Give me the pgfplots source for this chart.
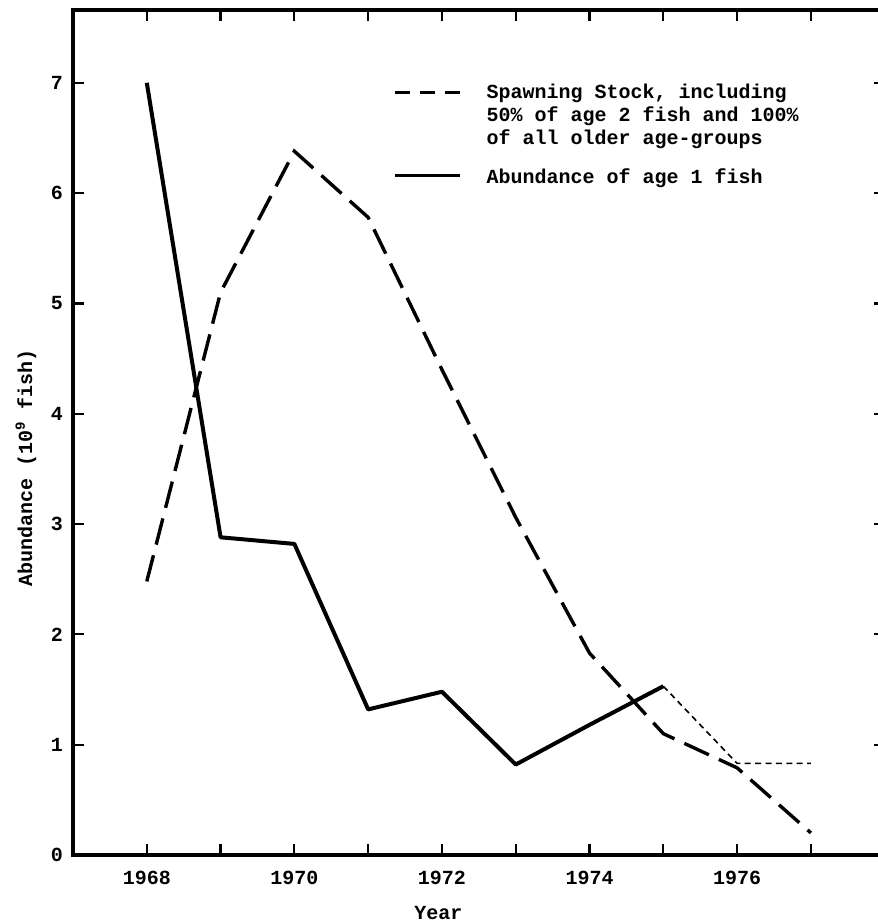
\documentclass[border=0pt]{standalone}
\usepackage{fontspec}
\setmainfont{Liberation Mono}[UprightFont=* Bold, BoldFont=* Bold]
\usepackage{pgfplots}
\pgfplotsset{compat=1.18}
\begin{document}
\begin{tikzpicture}
\path[use as bounding box] (0,0) rectangle (439pt,461.5pt);
\begin{axis}[
  at={(36.5pt,34pt)}, anchor=south west,
  scale only axis, width=405.85pt, height=422.5pt,
  xmin=1967, xmax=1978, ymin=0, ymax=7.66,
  xtick={1968,1970,...,1976}, minor xtick={1969,1971,...,1977},
  ytick={0,1,...,7},
  tick align=inside, major tick length=5.5pt, minor tick length=5.5pt,
  every tick/.style={black, line width=1.1pt},
  axis line style={line width=1.6pt},
  /pgf/number format/assume math mode=true,
  /pgf/number format/1000 sep={},
  tick label style={font=\fontsize{10}{12}\selectfont},
  xticklabel style={yshift=-4.6pt},
  yticklabel style={xshift=-1.5pt},
  xlabel={Year},
  xlabel style={at={(rel axis cs:0.45,-0.0686)}, anchor=center, font=\fontsize{10}{12}\selectfont},
  ylabel={Abundance (10\textsuperscript{9} fish)},
  ylabel style={at={(rel axis cs:-0.0579,0.458)}, anchor=center, font=\fontsize{10}{12}\selectfont},
  legend style={draw=none, fill=none, at={(rel axis cs:0.3942,0.9124)}, anchor=north west,
    font=\fontsize{10}{12}\selectfont, row sep=2.5pt, inner sep=0pt,
    nodes={text height=7pt, text depth=2pt, inner sep=0pt},
    /tikz/every odd column/.append style={column sep=12.5pt}},
  legend cell align=left,
]
\addplot[black, line width=1.7pt, dash pattern=on 13.5pt off 5.5pt,
  legend image code/.code={\draw[line width=1.6pt, dash pattern=on 7.5pt off 5pt] (0pt,0.5pt) -- (32.5pt,0.5pt);}]
  coordinates {(1968,2.48) (1969,5.1) (1970,6.38) (1971,5.78) (1972,4.4) (1973,3.06) (1974,1.83) (1975,1.1) (1976,0.79) (1977,0.2)};
\addlegendentry{Spawning Stock, including}
\addlegendimage{empty legend}
\addlegendentry{50\% of age 2 fish and 100\%}
\addlegendimage{empty legend}
\addlegendentry{of all older age-groups}
\addplot[black, line width=2pt, line join=round,
  legend image code/.code={\draw[line width=1.6pt] (0pt,-2.5pt) -- (32.5pt,-2.5pt);}]
  coordinates {(1968,7.0) (1969,2.88) (1970,2.82) (1971,1.32) (1972,1.48) (1973,0.82) (1974,1.18) (1975,1.53)};
\addlegendentry[text height=15pt]{Abundance of age 1 fish}
\addplot[black, line width=0.8pt, dash pattern=on 3pt off 2.2pt, forget plot]
  coordinates {(1975,1.53) (1976,0.83) (1977,0.83)};
\end{axis}
\end{tikzpicture}
\end{document}
